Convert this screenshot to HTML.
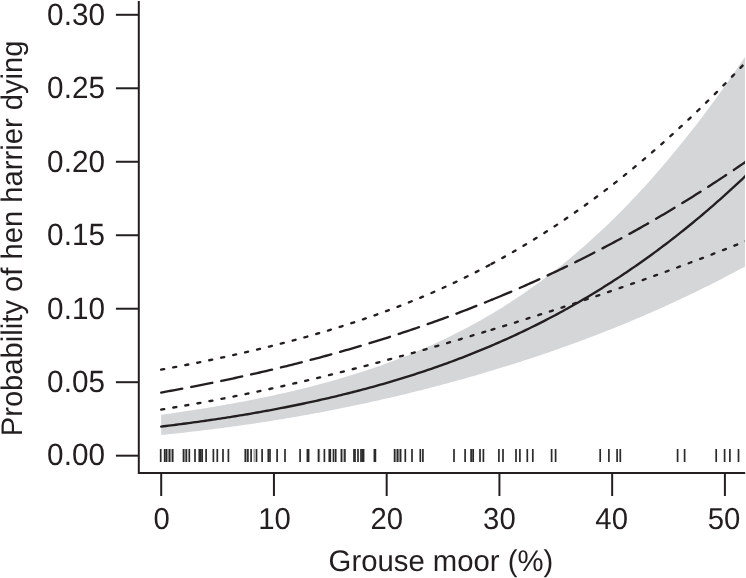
<!DOCTYPE html>
<html><head><meta charset="utf-8"><style>
html,body{margin:0;padding:0;background:#fff;}
svg{display:block;will-change:transform;}
text{font-family:"Liberation Sans",sans-serif;fill:#231f20;text-rendering:geometricPrecision;}
</style></head><body>
<svg width="746" height="578" viewBox="0 0 746 578">
<defs><clipPath id="c"><rect x="139" y="0" width="606" height="472"/></clipPath></defs>
<g clip-path="url(#c)">
<path d="M161.20,414.78 L163.66,414.44 L166.12,414.10 L168.59,413.75 L171.05,413.40 L173.51,413.05 L175.97,412.69 L178.44,412.33 L180.90,411.97 L183.36,411.60 L185.82,411.23 L188.29,410.86 L190.75,410.48 L193.21,410.10 L195.67,409.71 L198.14,409.32 L200.60,408.93 L203.06,408.54 L205.52,408.14 L207.98,407.73 L210.45,407.33 L212.91,406.91 L215.37,406.50 L217.83,406.08 L220.30,405.65 L222.76,405.22 L225.22,404.79 L227.68,404.36 L230.15,403.91 L232.61,403.47 L235.07,403.02 L237.53,402.56 L240.00,402.10 L242.46,401.64 L244.92,401.17 L247.38,400.69 L249.84,400.22 L252.31,399.73 L254.77,399.24 L257.23,398.75 L259.69,398.25 L262.16,397.74 L264.62,397.23 L267.08,396.72 L269.54,396.20 L272.01,395.67 L274.47,395.14 L276.93,394.60 L279.39,394.06 L281.86,393.51 L284.32,392.95 L286.78,392.39 L289.24,391.82 L291.70,391.25 L294.17,390.67 L296.63,390.08 L299.09,389.49 L301.55,388.89 L304.02,388.29 L306.48,387.67 L308.94,387.05 L311.40,386.43 L313.87,385.79 L316.33,385.15 L318.79,384.50 L321.25,383.85 L323.72,383.18 L326.18,382.51 L328.64,381.84 L331.10,381.15 L333.56,380.46 L336.03,379.75 L338.49,379.04 L340.95,378.33 L343.41,377.60 L345.88,376.86 L348.34,376.12 L350.80,375.37 L353.26,374.61 L355.73,373.84 L358.19,373.06 L360.65,372.27 L363.11,371.47 L365.58,370.67 L368.04,369.85 L370.50,369.03 L372.96,368.19 L375.42,367.35 L377.89,366.49 L380.35,365.63 L382.81,364.75 L385.27,363.87 L387.74,362.97 L390.20,362.06 L392.66,361.15 L395.12,360.22 L397.59,359.28 L400.05,358.33 L402.51,357.37 L404.97,356.39 L407.44,355.41 L409.90,354.41 L412.36,353.41 L414.82,352.39 L417.28,351.35 L419.75,350.31 L422.21,349.26 L424.67,348.19 L427.13,347.11 L429.60,346.01 L432.06,344.91 L434.52,343.79 L436.98,342.65 L439.45,341.51 L441.91,340.35 L444.37,339.18 L446.83,337.99 L449.30,336.79 L451.76,335.58 L454.22,334.35 L456.68,333.11 L459.14,331.85 L461.61,330.58 L464.07,329.29 L466.53,327.99 L468.99,326.68 L471.46,325.35 L473.92,324.00 L476.38,322.64 L478.84,321.27 L481.31,319.88 L483.77,318.47 L486.23,317.05 L488.69,315.61 L491.16,314.16 L491.53,313.93 L493.62,312.68 L496.08,311.20 L498.54,309.69 L501.00,308.17 L503.47,306.64 L505.93,305.08 L508.39,303.51 L510.85,301.93 L513.32,300.32 L515.78,298.70 L518.24,297.06 L520.70,295.40 L523.17,293.73 L525.63,292.03 L528.09,290.32 L530.55,288.59 L533.02,286.85 L535.48,285.08 L537.94,283.30 L540.40,281.49 L542.86,279.67 L545.33,277.83 L547.79,275.97 L550.25,274.09 L552.71,272.19 L555.18,270.28 L557.64,268.34 L560.10,266.38 L562.56,264.40 L565.03,262.41 L567.49,260.39 L569.95,258.36 L572.41,256.30 L574.88,254.22 L577.34,252.12 L579.80,250.01 L582.26,247.87 L584.73,245.71 L587.19,243.53 L589.65,241.33 L592.11,239.10 L594.57,236.86 L597.04,234.59 L599.50,232.31 L601.96,230.00 L604.42,227.67 L606.89,225.32 L609.35,222.95 L611.81,220.55 L614.27,218.14 L616.74,215.70 L619.20,213.24 L621.66,210.75 L624.12,208.25 L626.59,205.72 L629.05,203.17 L631.51,200.60 L633.97,198.00 L636.43,195.38 L638.90,192.74 L641.36,190.08 L643.82,187.39 L646.28,184.68 L648.75,181.95 L651.21,179.20 L653.67,176.42 L656.13,173.62 L658.60,170.79 L661.06,167.94 L663.52,165.07 L665.98,162.18 L668.45,159.26 L670.91,156.32 L673.37,153.36 L675.83,150.37 L678.29,147.36 L680.76,144.32 L683.22,141.27 L685.68,138.19 L688.14,135.08 L690.61,131.95 L693.07,128.80 L695.53,125.63 L697.99,122.43 L700.46,119.21 L702.92,115.96 L705.38,112.69 L707.84,109.40 L710.31,106.09 L712.77,102.75 L715.23,99.39 L717.69,96.00 L720.15,92.60 L722.62,89.17 L725.08,85.71 L727.54,82.23 L730.00,78.74 L732.47,75.21 L734.93,71.67 L737.39,68.10 L739.85,64.51 L742.32,60.90 L744.78,57.26 L747.24,53.61 L749.70,49.93 L749.70,263.95 L747.24,265.30 L744.78,266.64 L742.32,267.97 L739.85,269.30 L737.39,270.62 L734.93,271.93 L732.47,273.24 L730.00,274.53 L727.54,275.82 L725.08,277.11 L722.62,278.38 L720.15,279.65 L717.69,280.91 L715.23,282.17 L712.77,283.42 L710.31,284.66 L707.84,285.89 L705.38,287.12 L702.92,288.34 L700.46,289.55 L697.99,290.76 L695.53,291.96 L693.07,293.15 L690.61,294.34 L688.14,295.52 L685.68,296.69 L683.22,297.85 L680.76,299.01 L678.29,300.17 L675.83,301.31 L673.37,302.45 L670.91,303.59 L668.45,304.71 L665.98,305.83 L663.52,306.95 L661.06,308.06 L658.60,309.16 L656.13,310.25 L653.67,311.34 L651.21,312.42 L648.75,313.50 L646.28,314.57 L643.82,315.63 L641.36,316.69 L638.90,317.74 L636.43,318.79 L633.97,319.83 L631.51,320.86 L629.05,321.89 L626.59,322.91 L624.12,323.93 L621.66,324.94 L619.20,325.94 L616.74,326.94 L614.27,327.93 L611.81,328.92 L609.35,329.90 L606.89,330.87 L604.42,331.84 L601.96,332.81 L599.50,333.77 L597.04,334.72 L594.57,335.67 L592.11,336.61 L589.65,337.54 L587.19,338.47 L584.73,339.40 L582.26,340.32 L579.80,341.23 L577.34,342.14 L574.88,343.05 L572.41,343.95 L569.95,344.84 L567.49,345.73 L565.03,346.61 L562.56,347.49 L560.10,348.36 L557.64,349.23 L555.18,350.09 L552.71,350.95 L550.25,351.80 L547.79,352.65 L545.33,353.50 L542.86,354.33 L540.40,355.17 L537.94,355.99 L535.48,356.82 L533.02,357.64 L530.55,358.45 L528.09,359.26 L525.63,360.06 L523.17,360.86 L520.70,361.66 L518.24,362.45 L515.78,363.23 L513.32,364.02 L510.85,364.79 L508.39,365.56 L505.93,366.33 L503.47,367.09 L501.00,367.85 L498.54,368.61 L496.08,369.36 L493.62,370.10 L491.53,370.73 L491.16,370.84 L488.69,371.58 L486.23,372.31 L483.77,373.04 L481.31,373.76 L478.84,374.48 L476.38,375.20 L473.92,375.91 L471.46,376.61 L468.99,377.32 L466.53,378.01 L464.07,378.71 L461.61,379.40 L459.14,380.08 L456.68,380.77 L454.22,381.44 L451.76,382.12 L449.30,382.79 L446.83,383.45 L444.37,384.11 L441.91,384.77 L439.45,385.42 L436.98,386.07 L434.52,386.72 L432.06,387.36 L429.60,387.99 L427.13,388.63 L424.67,389.26 L422.21,389.88 L419.75,390.50 L417.28,391.12 L414.82,391.73 L412.36,392.34 L409.90,392.95 L407.44,393.55 L404.97,394.15 L402.51,394.74 L400.05,395.33 L397.59,395.92 L395.12,396.50 L392.66,397.08 L390.20,397.65 L387.74,398.23 L385.27,398.79 L382.81,399.36 L380.35,399.91 L377.89,400.47 L375.42,401.02 L372.96,401.57 L370.50,402.11 L368.04,402.65 L365.58,403.19 L363.11,403.72 L360.65,404.25 L358.19,404.77 L355.73,405.29 L353.26,405.81 L350.80,406.32 L348.34,406.83 L345.88,407.34 L343.41,407.84 L340.95,408.34 L338.49,408.83 L336.03,409.32 L333.56,409.81 L331.10,410.29 L328.64,410.77 L326.18,411.24 L323.72,411.72 L321.25,412.18 L318.79,412.65 L316.33,413.11 L313.87,413.56 L311.40,414.01 L308.94,414.46 L306.48,414.91 L304.02,415.35 L301.55,415.79 L299.09,416.22 L296.63,416.65 L294.17,417.08 L291.70,417.50 L289.24,417.92 L286.78,418.33 L284.32,418.75 L281.86,419.15 L279.39,419.56 L276.93,419.96 L274.47,420.36 L272.01,420.75 L269.54,421.14 L267.08,421.53 L264.62,421.91 L262.16,422.29 L259.69,422.66 L257.23,423.04 L254.77,423.40 L252.31,423.77 L249.84,424.13 L247.38,424.49 L244.92,424.84 L242.46,425.20 L240.00,425.54 L237.53,425.89 L235.07,426.23 L232.61,426.57 L230.15,426.90 L227.68,427.23 L225.22,427.56 L222.76,427.89 L220.30,428.21 L217.83,428.53 L215.37,428.84 L212.91,429.15 L210.45,429.46 L207.98,429.77 L205.52,430.07 L203.06,430.37 L200.60,430.66 L198.14,430.96 L195.67,431.25 L193.21,431.53 L190.75,431.82 L188.29,432.10 L185.82,432.38 L183.36,432.65 L180.90,432.92 L178.44,433.19 L175.97,433.46 L173.51,433.72 L171.05,433.98 L168.59,434.24 L166.12,434.50 L163.66,434.75 L161.20,435.00 Z" fill="#d5d6d8"/>
<g fill="none" stroke="#231f20" stroke-width="2.35">
<path d="M161.20,426.56 L163.66,426.26 L166.12,425.96 L168.59,425.66 L171.05,425.36 L173.51,425.05 L175.97,424.73 L178.44,424.42 L180.90,424.10 L183.36,423.78 L185.82,423.46 L188.29,423.13 L190.75,422.80 L193.21,422.46 L195.67,422.13 L198.14,421.79 L200.60,421.44 L203.06,421.09 L205.52,420.74 L207.98,420.39 L210.45,420.03 L212.91,419.67 L215.37,419.30 L217.83,418.94 L220.30,418.56 L222.76,418.19 L225.22,417.81 L227.68,417.42 L230.15,417.04 L232.61,416.65 L235.07,416.25 L237.53,415.85 L240.00,415.45 L242.46,415.04 L244.92,414.63 L247.38,414.22 L249.84,413.80 L252.31,413.38 L254.77,412.95 L257.23,412.52 L259.69,412.08 L262.16,411.64 L264.62,411.20 L267.08,410.75 L269.54,410.30 L272.01,409.84 L274.47,409.38 L276.93,408.91 L279.39,408.44 L281.86,407.97 L284.32,407.49 L286.78,407.00 L289.24,406.52 L291.70,406.02 L294.17,405.52 L296.63,405.02 L299.09,404.51 L301.55,404.00 L304.02,403.48 L306.48,402.96 L308.94,402.43 L311.40,401.90 L313.87,401.36 L316.33,400.81 L318.79,400.27 L321.25,399.71 L323.72,399.15 L326.18,398.59 L328.64,398.02 L331.10,397.44 L333.56,396.86 L336.03,396.27 L338.49,395.68 L340.95,395.08 L343.41,394.48 L345.88,393.87 L348.34,393.26 L350.80,392.64 L353.26,392.01 L355.73,391.38 L358.19,390.74 L360.65,390.09 L363.11,389.44 L365.58,388.78 L368.04,388.12 L370.50,387.45 L372.96,386.78 L375.42,386.09 L377.89,385.41 L380.35,384.71 L382.81,384.01 L385.27,383.30 L387.74,382.59 L390.20,381.86 L392.66,381.14 L395.12,380.40 L397.59,379.66 L400.05,378.91 L402.51,378.15 L404.97,377.39 L407.44,376.62 L409.90,375.85 L412.36,375.06 L414.82,374.27 L417.28,373.47 L419.75,372.66 L422.21,371.85 L424.67,371.03 L427.13,370.20 L429.60,369.37 L432.06,368.52 L434.52,367.67 L436.98,366.81 L439.45,365.94 L441.91,365.07 L444.37,364.19 L446.83,363.30 L449.30,362.40 L451.76,361.49 L454.22,360.57 L456.68,359.65 L459.14,358.72 L461.61,357.78 L464.07,356.83 L466.53,355.87 L468.99,354.90 L471.46,353.93 L473.92,352.95 L476.38,351.95 L478.84,350.95 L481.31,349.94 L483.77,348.92 L486.23,347.90 L488.69,346.86 L491.16,345.81 L491.53,345.65 L493.62,344.76 L496.08,343.69 L498.54,342.62 L501.00,341.53 L503.47,340.44 L505.93,339.34 L508.39,338.23 L510.85,337.10 L513.32,335.97 L515.78,334.83 L518.24,333.68 L520.70,332.52 L523.17,331.35 L525.63,330.17 L528.09,328.97 L530.55,327.77 L533.02,326.56 L535.48,325.34 L537.94,324.10 L540.40,322.86 L542.86,321.61 L545.33,320.34 L547.79,319.06 L550.25,317.78 L552.71,316.48 L555.18,315.17 L557.64,313.85 L560.10,312.52 L562.56,311.18 L565.03,309.83 L567.49,308.47 L569.95,307.09 L572.41,305.71 L574.88,304.31 L577.34,302.90 L579.80,301.48 L582.26,300.04 L584.73,298.60 L587.19,297.14 L589.65,295.68 L592.11,294.20 L594.57,292.70 L597.04,291.20 L599.50,289.68 L601.96,288.16 L604.42,286.62 L606.89,285.06 L609.35,283.50 L611.81,281.92 L614.27,280.33 L616.74,278.73 L619.20,277.11 L621.66,275.48 L624.12,273.84 L626.59,272.19 L629.05,270.52 L631.51,268.84 L633.97,267.15 L636.43,265.45 L638.90,263.73 L641.36,262.00 L643.82,260.25 L646.28,258.49 L648.75,256.72 L651.21,254.94 L653.67,253.14 L656.13,251.33 L658.60,249.50 L661.06,247.66 L663.52,245.81 L665.98,243.94 L668.45,242.06 L670.91,240.17 L673.37,238.26 L675.83,236.34 L678.29,234.40 L680.76,232.45 L683.22,230.49 L685.68,228.51 L688.14,226.52 L690.61,224.51 L693.07,222.49 L695.53,220.46 L697.99,218.41 L700.46,216.34 L702.92,214.27 L705.38,212.17 L707.84,210.07 L710.31,207.94 L712.77,205.81 L715.23,203.66 L717.69,201.49 L720.15,199.31 L722.62,197.11 L725.08,194.91 L727.54,192.68 L730.00,190.44 L732.47,188.19 L734.93,185.92 L737.39,183.63 L739.85,181.33 L742.32,179.02 L744.78,176.69 L747.24,174.35 L749.70,171.99" stroke-linecap="round"/>
<g stroke-linecap="round" stroke-dasharray="21.42 9.18">
<path d="M161.20,392.54 L163.66,392.10 L166.12,391.66 L168.59,391.21 L171.05,390.76 L173.51,390.31 L175.97,389.86 L178.44,389.40 L180.90,388.94 L183.36,388.48 L185.82,388.01 L188.29,387.54 L190.75,387.07 L193.21,386.59 L195.67,386.11 L198.14,385.63 L200.60,385.14 L203.06,384.65 L205.52,384.16 L207.98,383.67 L210.45,383.17 L212.91,382.67 L215.37,382.16 L217.83,381.66 L220.30,381.14 L222.76,380.63 L225.22,380.11 L227.68,379.59 L230.15,379.07 L232.61,378.54 L235.07,378.01 L237.53,377.47 L240.00,376.93 L242.46,376.39 L244.92,375.84 L247.38,375.30 L249.84,374.74 L252.31,374.19 L254.77,373.63 L257.23,373.06 L259.69,372.50 L262.16,371.93 L264.62,371.35 L267.08,370.77 L269.54,370.19 L272.01,369.61 L274.47,369.02 L276.93,368.43 L279.39,367.83 L281.86,367.23 L284.32,366.63 L286.78,366.02 L289.24,365.41 L291.70,364.79 L294.17,364.17 L296.63,363.55 L299.09,362.92 L301.55,362.29 L304.02,361.65 L306.48,361.01 L308.94,360.37 L311.40,359.72 L313.87,359.07 L316.33,358.42 L318.79,357.76 L321.25,357.09 L323.72,356.42 L326.18,355.75 L328.64,355.08 L331.10,354.39 L333.56,353.71 L336.03,353.02 L338.49,352.33 L340.95,351.63 L343.41,350.93 L345.88,350.22 L348.34,349.51 L350.80,348.80 L353.26,348.08 L355.73,347.35 L358.19,346.62 L360.65,345.89 L363.11,345.15 L365.58,344.41 L368.04,343.66 L370.50,342.91 L372.96,342.16 L375.42,341.40 L377.89,340.63 L380.35,339.86 L382.81,339.09 L385.27,338.31 L387.74,337.53 L390.20,336.74 L392.66,335.94 L395.12,335.15 L397.59,334.34 L400.05,333.53 L402.51,332.72 L404.97,331.90 L407.44,331.08 L409.90,330.25 L412.36,329.42 L414.82,328.58 L417.28,327.74 L419.75,326.89 L422.21,326.04 L424.67,325.18 L427.13,324.32 L429.60,323.45 L432.06,322.58 L434.52,321.70 L436.98,320.82 L439.45,319.93 L441.91,319.04 L444.37,318.14 L446.83,317.24 L449.30,316.33 L451.76,315.41 L454.22,314.49 L456.68,313.56 L459.14,312.63 L461.61,311.70 L464.07,310.76 L466.53,309.81 L468.99,308.86 L471.46,307.90 L473.92,306.93 L476.38,305.96 L478.84,304.99 L481.31,304.01 L483.77,303.02 L486.23,302.03 L488.69,301.03 L491.16,300.03 L491.53,299.88"/><path d="M491.53,299.88 L493.62,299.02 L496.08,298.01 L498.54,296.99 L501.00,295.96 L503.47,294.93 L505.93,293.89 L508.39,292.85 L510.85,291.80 L513.32,290.74 L515.78,289.68 L518.24,288.61 L520.70,287.54 L523.17,286.46 L525.63,285.37 L528.09,284.28 L530.55,283.19 L533.02,282.08 L535.48,280.97 L537.94,279.86 L540.40,278.74 L542.86,277.61 L545.33,276.47 L547.79,275.33 L550.25,274.19 L552.71,273.04 L555.18,271.88 L557.64,270.71 L560.10,269.54 L562.56,268.36 L565.03,267.18 L567.49,265.99 L569.95,264.79 L572.41,263.59 L574.88,262.38 L577.34,261.16 L579.80,259.94 L582.26,258.71 L584.73,257.47 L587.19,256.23 L589.65,254.98 L592.11,253.73 L594.57,252.47 L597.04,251.20 L599.50,249.92 L601.96,248.64 L604.42,247.35 L606.89,246.06 L609.35,244.76 L611.81,243.45 L614.27,242.13 L616.74,240.81 L619.20,239.48 L621.66,238.15 L624.12,236.80 L626.59,235.45 L629.05,234.10 L631.51,232.74 L633.97,231.37 L636.43,229.99 L638.90,228.61 L641.36,227.22 L643.82,225.82 L646.28,224.42 L648.75,223.00 L651.21,221.59 L653.67,220.16 L656.13,218.73 L658.60,217.29 L661.06,215.85 L663.52,214.39 L665.98,212.93 L668.45,211.47 L670.91,209.99 L673.37,208.51 L675.83,207.02 L678.29,205.53 L680.76,204.02 L683.22,202.51 L685.68,201.00 L688.14,199.47 L690.61,197.94 L693.07,196.40 L695.53,194.86 L697.99,193.30 L700.46,191.74 L702.92,190.18 L705.38,188.60 L707.84,187.02 L710.31,185.43 L712.77,183.84 L715.23,182.23 L717.69,180.62 L720.15,179.00 L722.62,177.38 L725.08,175.75 L727.54,174.11 L730.00,172.46 L732.47,170.81 L734.93,169.14 L737.39,167.47 L739.85,165.80 L742.32,164.11 L744.78,162.42 L747.24,160.72 L749.70,159.02"/></g>
<g stroke-linecap="round" stroke-dasharray="3.06 9.18">
<path d="M161.20,369.68 L163.66,369.22 L166.12,368.77 L168.59,368.31 L171.05,367.84 L173.51,367.38 L175.97,366.91 L178.44,366.44 L180.90,365.96 L183.36,365.49 L185.82,365.00 L188.29,364.52 L190.75,364.03 L193.21,363.54 L195.67,363.05 L198.14,362.55 L200.60,362.05 L203.06,361.55 L205.52,361.04 L207.98,360.53 L210.45,360.01 L212.91,359.50 L215.37,358.97 L217.83,358.45 L220.30,357.92 L222.76,357.39 L225.22,356.85 L227.68,356.31 L230.15,355.77 L232.61,355.22 L235.07,354.67 L237.53,354.12 L240.00,353.56 L242.46,352.99 L244.92,352.43 L247.38,351.86 L249.84,351.28 L252.31,350.70 L254.77,350.12 L257.23,349.53 L259.69,348.94 L262.16,348.34 L264.62,347.74 L267.08,347.13 L269.54,346.52 L272.01,345.90 L274.47,345.28 L276.93,344.66 L279.39,344.03 L281.86,343.40 L284.32,342.76 L286.78,342.11 L289.24,341.46 L291.70,340.81 L294.17,340.15 L296.63,339.48 L299.09,338.81 L301.55,338.14 L304.02,337.46 L306.48,336.77 L308.94,336.08 L311.40,335.38 L313.87,334.68 L316.33,333.97 L318.79,333.25 L321.25,332.53 L323.72,331.81 L326.18,331.07 L328.64,330.33 L331.10,329.59 L333.56,328.84 L336.03,328.08 L338.49,327.31 L340.95,326.54 L343.41,325.77 L345.88,324.98 L348.34,324.19 L350.80,323.39 L353.26,322.59 L355.73,321.78 L358.19,320.96 L360.65,320.13 L363.11,319.30 L365.58,318.46 L368.04,317.61 L370.50,316.76 L372.96,315.89 L375.42,315.02 L377.89,314.15 L380.35,313.26 L382.81,312.37 L385.27,311.47 L387.74,310.56 L390.20,309.64 L392.66,308.71 L395.12,307.78 L397.59,306.84 L400.05,305.89 L402.51,304.93 L404.97,303.96 L407.44,302.98 L409.90,302.00 L412.36,301.00 L414.82,300.00 L417.28,298.99 L419.75,297.97 L422.21,296.94 L424.67,295.90 L427.13,294.85 L429.60,293.79 L432.06,292.73 L434.52,291.65 L436.98,290.57 L439.45,289.47 L441.91,288.36 L444.37,287.25 L446.83,286.12 L449.30,284.99 L451.76,283.84 L454.22,282.69 L456.68,281.52 L459.14,280.35 L461.61,279.16 L464.07,277.97 L466.53,276.76 L468.99,275.54 L471.46,274.32 L473.92,273.08 L476.38,271.83 L478.84,270.57 L481.31,269.30 L483.77,268.02 L486.23,266.73 L488.69,265.43 L491.16,264.11 L491.53,263.91"/><path d="M491.53,263.91 L493.62,262.79 L496.08,261.45 L498.54,260.10 L501.00,258.75 L503.47,257.38 L505.93,256.00 L508.39,254.60 L510.85,253.20 L513.32,251.79 L515.78,250.36 L518.24,248.92 L520.70,247.47 L523.17,246.01 L525.63,244.54 L528.09,243.05 L530.55,241.56 L533.02,240.05 L535.48,238.53 L537.94,237.00 L540.40,235.45 L542.86,233.90 L545.33,232.33 L547.79,230.75 L550.25,229.16 L552.71,227.55 L555.18,225.94 L557.64,224.31 L560.10,222.67 L562.56,221.01 L565.03,219.35 L567.49,217.67 L569.95,215.98 L572.41,214.28 L574.88,212.56 L577.34,210.83 L579.80,209.09 L582.26,207.34 L584.73,205.57 L587.19,203.80 L589.65,202.01 L592.11,200.20 L594.57,198.39 L597.04,196.56 L599.50,194.72 L601.96,192.86 L604.42,191.00 L606.89,189.12 L609.35,187.23 L611.81,185.32 L614.27,183.40 L616.74,181.47 L619.20,179.53 L621.66,177.57 L624.12,175.60 L626.59,173.62 L629.05,171.63 L631.51,169.62 L633.97,167.60 L636.43,165.56 L638.90,163.52 L641.36,161.46 L643.82,159.39 L646.28,157.30 L648.75,155.20 L651.21,153.09 L653.67,150.96 L656.13,148.83 L658.60,146.68 L661.06,144.51 L663.52,142.34 L665.98,140.15 L668.45,137.94 L670.91,135.73 L673.37,133.50 L675.83,131.26 L678.29,129.00 L680.76,126.74 L683.22,124.46 L685.68,122.16 L688.14,119.86 L690.61,117.54 L693.07,115.20 L695.53,112.86 L697.99,110.50 L700.46,108.13 L702.92,105.75 L705.38,103.35 L707.84,100.94 L710.31,98.52 L712.77,96.08 L715.23,93.64 L717.69,91.18 L720.15,88.70 L722.62,86.22 L725.08,83.72 L727.54,81.21 L730.00,78.68 L732.47,76.15 L734.93,73.60 L737.39,71.04 L739.85,68.46 L742.32,65.88 L744.78,63.28 L747.24,60.67 L749.70,58.04"/>
<path d="M161.20,409.56 L163.66,409.16 L166.12,408.76 L168.59,408.35 L171.05,407.94 L173.51,407.53 L175.97,407.11 L178.44,406.69 L180.90,406.27 L183.36,405.85 L185.82,405.42 L188.29,404.99 L190.75,404.55 L193.21,404.12 L195.67,403.68 L198.14,403.23 L200.60,402.79 L203.06,402.34 L205.52,401.88 L207.98,401.43 L210.45,400.97 L212.91,400.51 L215.37,400.04 L217.83,399.57 L220.30,399.10 L222.76,398.63 L225.22,398.15 L227.68,397.67 L230.15,397.18 L232.61,396.70 L235.07,396.21 L237.53,395.71 L240.00,395.22 L242.46,394.72 L244.92,394.21 L247.38,393.71 L249.84,393.20 L252.31,392.68 L254.77,392.17 L257.23,391.65 L259.69,391.13 L262.16,390.60 L264.62,390.07 L267.08,389.54 L269.54,389.00 L272.01,388.47 L274.47,387.93 L276.93,387.38 L279.39,386.83 L281.86,386.28 L284.32,385.73 L286.78,385.17 L289.24,384.61 L291.70,384.05 L294.17,383.48 L296.63,382.91 L299.09,382.34 L301.55,381.77 L304.02,381.19 L306.48,380.61 L308.94,380.02 L311.40,379.44 L313.87,378.85 L316.33,378.25 L318.79,377.66 L321.25,377.06 L323.72,376.46 L326.18,375.85 L328.64,375.24 L331.10,374.63 L333.56,374.02 L336.03,373.40 L338.49,372.78 L340.95,372.16 L343.41,371.54 L345.88,370.91 L348.34,370.28 L350.80,369.65 L353.26,369.01 L355.73,368.38 L358.19,367.74 L360.65,367.09 L363.11,366.45 L365.58,365.80 L368.04,365.15 L370.50,364.50 L372.96,363.84 L375.42,363.18 L377.89,362.52 L380.35,361.86 L382.81,361.20 L385.27,360.53 L387.74,359.86 L390.20,359.19 L392.66,358.51 L395.12,357.84 L397.59,357.16 L400.05,356.48 L402.51,355.79 L404.97,355.11 L407.44,354.42 L409.90,353.73 L412.36,353.04 L414.82,352.35 L417.28,351.65 L419.75,350.95 L422.21,350.25 L424.67,349.55 L427.13,348.85 L429.60,348.14 L432.06,347.43 L434.52,346.72 L436.98,346.01 L439.45,345.30 L441.91,344.58 L444.37,343.87 L446.83,343.15 L449.30,342.43 L451.76,341.70 L454.22,340.98 L456.68,340.25 L459.14,339.52 L461.61,338.79 L464.07,338.06 L466.53,337.33 L468.99,336.59 L471.46,335.85 L473.92,335.12 L476.38,334.37 L478.84,333.63 L481.31,332.89 L483.77,332.14 L486.23,331.39 L488.69,330.64 L491.16,329.89 L491.53,329.78"/><path d="M491.53,329.78 L493.62,329.14 L496.08,328.38 L498.54,327.63 L501.00,326.87 L503.47,326.11 L505.93,325.35 L508.39,324.58 L510.85,323.82 L513.32,323.05 L515.78,322.28 L518.24,321.51 L520.70,320.74 L523.17,319.96 L525.63,319.19 L528.09,318.41 L530.55,317.63 L533.02,316.85 L535.48,316.06 L537.94,315.28 L540.40,314.49 L542.86,313.70 L545.33,312.91 L547.79,312.12 L550.25,311.32 L552.71,310.53 L555.18,309.73 L557.64,308.93 L560.10,308.13 L562.56,307.32 L565.03,306.52 L567.49,305.71 L569.95,304.90 L572.41,304.09 L574.88,303.27 L577.34,302.46 L579.80,301.64 L582.26,300.82 L584.73,300.00 L587.19,299.17 L589.65,298.35 L592.11,297.52 L594.57,296.69 L597.04,295.86 L599.50,295.02 L601.96,294.18 L604.42,293.35 L606.89,292.50 L609.35,291.66 L611.81,290.82 L614.27,289.97 L616.74,289.12 L619.20,288.27 L621.66,287.41 L624.12,286.55 L626.59,285.70 L629.05,284.83 L631.51,283.97 L633.97,283.10 L636.43,282.24 L638.90,281.37 L641.36,280.49 L643.82,279.62 L646.28,278.74 L648.75,277.86 L651.21,276.98 L653.67,276.09 L656.13,275.21 L658.60,274.32 L661.06,273.42 L663.52,272.53 L665.98,271.63 L668.45,270.73 L670.91,269.83 L673.37,268.92 L675.83,268.02 L678.29,267.11 L680.76,266.20 L683.22,265.28 L685.68,264.36 L688.14,263.44 L690.61,262.52 L693.07,261.59 L695.53,260.67 L697.99,259.73 L700.46,258.80 L702.92,257.87 L705.38,256.93 L707.84,255.99 L710.31,255.04 L712.77,254.09 L715.23,253.14 L717.69,252.19 L720.15,251.24 L722.62,250.28 L725.08,249.32 L727.54,248.35 L730.00,247.39 L732.47,246.42 L734.93,245.45 L737.39,244.47 L739.85,243.49 L742.32,242.51 L744.78,241.53 L747.24,240.54 L749.70,239.56"/></g>
</g>
</g>
<g stroke="#2a2a2a" stroke-width="1.7"><line x1="160.7" y1="449" x2="160.7" y2="462"/><line x1="164.7" y1="449" x2="164.7" y2="462"/><line x1="166.3" y1="449" x2="166.3" y2="462"/><line x1="169.5" y1="449" x2="169.5" y2="462"/><line x1="172.7" y1="449" x2="172.7" y2="462"/><line x1="183.5" y1="449" x2="183.5" y2="462"/><line x1="186.4" y1="449" x2="186.4" y2="462"/><line x1="189.3" y1="449" x2="189.3" y2="462"/><line x1="195.0" y1="449" x2="195.0" y2="462"/><line x1="199.3" y1="449" x2="199.3" y2="462"/><line x1="200.7" y1="449" x2="200.7" y2="462"/><line x1="202.2" y1="449" x2="202.2" y2="462"/><line x1="206.1" y1="449" x2="206.1" y2="462"/><line x1="213.4" y1="449" x2="213.4" y2="462"/><line x1="217.3" y1="449" x2="217.3" y2="462"/><line x1="223.0" y1="449" x2="223.0" y2="462"/><line x1="228.4" y1="449" x2="228.4" y2="462"/><line x1="245.3" y1="449" x2="245.3" y2="462"/><line x1="247.9" y1="449" x2="247.9" y2="462"/><line x1="251.1" y1="449" x2="251.1" y2="462"/><line x1="256.5" y1="449" x2="256.5" y2="462"/><line x1="262.1" y1="449" x2="262.1" y2="462"/><line x1="268.3" y1="449" x2="268.3" y2="462"/><line x1="270.0" y1="449" x2="270.0" y2="462"/><line x1="277.1" y1="449" x2="277.1" y2="462"/><line x1="285.0" y1="449" x2="285.0" y2="462"/><line x1="300.1" y1="449" x2="300.1" y2="462"/><line x1="307.4" y1="449" x2="307.4" y2="462"/><line x1="308.6" y1="449" x2="308.6" y2="462"/><line x1="318.5" y1="449" x2="318.5" y2="462"/><line x1="324.4" y1="449" x2="324.4" y2="462"/><line x1="329.3" y1="449" x2="329.3" y2="462"/><line x1="330.3" y1="449" x2="330.3" y2="462"/><line x1="333.5" y1="449" x2="333.5" y2="462"/><line x1="335.7" y1="449" x2="335.7" y2="462"/><line x1="341.4" y1="449" x2="341.4" y2="462"/><line x1="344.9" y1="449" x2="344.9" y2="462"/><line x1="354.0" y1="449" x2="354.0" y2="462"/><line x1="355.0" y1="449" x2="355.0" y2="462"/><line x1="358.0" y1="449" x2="358.0" y2="462"/><line x1="361.0" y1="449" x2="361.0" y2="462"/><line x1="362.3" y1="449" x2="362.3" y2="462"/><line x1="363.6" y1="449" x2="363.6" y2="462"/><line x1="374.4" y1="449" x2="374.4" y2="462"/><line x1="375.4" y1="449" x2="375.4" y2="462"/><line x1="394.6" y1="449" x2="394.6" y2="462"/><line x1="397.6" y1="449" x2="397.6" y2="462"/><line x1="400.6" y1="449" x2="400.6" y2="462"/><line x1="405.3" y1="449" x2="405.3" y2="462"/><line x1="412.0" y1="449" x2="412.0" y2="462"/><line x1="420.3" y1="449" x2="420.3" y2="462"/><line x1="422.9" y1="449" x2="422.9" y2="462"/><line x1="454.0" y1="449" x2="454.0" y2="462"/><line x1="465.1" y1="449" x2="465.1" y2="462"/><line x1="471.1" y1="449" x2="471.1" y2="462"/><line x1="473.2" y1="449" x2="473.2" y2="462"/><line x1="480.0" y1="449" x2="480.0" y2="462"/><line x1="483.4" y1="449" x2="483.4" y2="462"/><line x1="498.9" y1="449" x2="498.9" y2="462"/><line x1="503.0" y1="449" x2="503.0" y2="462"/><line x1="516.0" y1="449" x2="516.0" y2="462"/><line x1="519.9" y1="449" x2="519.9" y2="462"/><line x1="527.3" y1="449" x2="527.3" y2="462"/><line x1="532.8" y1="449" x2="532.8" y2="462"/><line x1="551.6" y1="449" x2="551.6" y2="462"/><line x1="555.6" y1="449" x2="555.6" y2="462"/><line x1="600.2" y1="449" x2="600.2" y2="462"/><line x1="608.9" y1="449" x2="608.9" y2="462"/><line x1="617.1" y1="449" x2="617.1" y2="462"/><line x1="620.3" y1="449" x2="620.3" y2="462"/><line x1="677.6" y1="449" x2="677.6" y2="462"/><line x1="684.6" y1="449" x2="684.6" y2="462"/><line x1="716.2" y1="449" x2="716.2" y2="462"/><line x1="724.6" y1="449" x2="724.6" y2="462"/><line x1="729.9" y1="449" x2="729.9" y2="462"/><line x1="738.5" y1="449" x2="738.5" y2="462"/></g><g stroke="#2a2a2a" stroke-opacity="0.4" stroke-width="1.7"><line x1="167.9" y1="449" x2="167.9" y2="462"/><line x1="171.0" y1="449" x2="171.0" y2="462"/><line x1="185.0" y1="449" x2="185.0" y2="462"/><line x1="246.6" y1="449" x2="246.6" y2="462"/><line x1="254.3" y1="449" x2="254.3" y2="462"/><line x1="319.3" y1="449" x2="319.3" y2="462"/><line x1="343.1" y1="449" x2="343.1" y2="462"/><line x1="396.1" y1="449" x2="396.1" y2="462"/><line x1="399.1" y1="449" x2="399.1" y2="462"/><line x1="472.2" y1="449" x2="472.2" y2="462"/></g>
<g stroke="#231f20" stroke-width="2" fill="none" stroke-linecap="butt">
<path d="M138.8,1 V472.9 H745.2" stroke-linejoin="miter"/>
<line x1="115.9" y1="14.80" x2="138.8" y2="14.80"/><line x1="115.9" y1="88.28" x2="138.8" y2="88.28"/><line x1="115.9" y1="161.76" x2="138.8" y2="161.76"/><line x1="115.9" y1="235.24" x2="138.8" y2="235.24"/><line x1="115.9" y1="308.72" x2="138.8" y2="308.72"/><line x1="115.9" y1="382.20" x2="138.8" y2="382.20"/><line x1="115.9" y1="455.68" x2="138.8" y2="455.68"/><line x1="161.20" y1="472.9" x2="161.20" y2="496"/><line x1="273.94" y1="472.9" x2="273.94" y2="496"/><line x1="386.68" y1="472.9" x2="386.68" y2="496"/><line x1="499.42" y1="472.9" x2="499.42" y2="496"/><line x1="612.16" y1="472.9" x2="612.16" y2="496"/><line x1="724.90" y1="472.9" x2="724.90" y2="496"/>
</g>
<g font-size="29.3"><text transform="translate(104.90,25.00) scale(1,1.035)" text-anchor="end" font-size="29.7">0.30</text><text transform="translate(104.90,98.00) scale(1,1.035)" text-anchor="end" font-size="29.7">0.25</text><text transform="translate(104.90,172.00) scale(1,1.035)" text-anchor="end" font-size="29.7">0.20</text><text transform="translate(104.90,245.00) scale(1,1.035)" text-anchor="end" font-size="29.7">0.15</text><text transform="translate(104.90,319.00) scale(1,1.035)" text-anchor="end" font-size="29.7">0.10</text><text transform="translate(104.90,392.00) scale(1,1.035)" text-anchor="end" font-size="29.7">0.05</text><text transform="translate(104.90,465.00) scale(1,1.035)" text-anchor="end" font-size="29.7">0.00</text><text transform="translate(161.70,529.40) scale(1,1.035)" text-anchor="middle">0</text><text transform="translate(274.44,529.40) scale(1,1.035)" text-anchor="middle">10</text><text transform="translate(386.68,529.40) scale(1,1.035)" text-anchor="middle">20</text><text transform="translate(499.42,529.40) scale(1,1.035)" text-anchor="middle">30</text><text transform="translate(611.66,529.40) scale(1,1.035)" text-anchor="middle">40</text><text transform="translate(724.00,529.40) scale(1,1.035)" text-anchor="middle">50</text><text transform="translate(328.6,571.2) scale(1,1.020)">Grouse moor (%)</text><text transform="translate(21.7,436.3) rotate(-90) scale(1,1.020)" font-size="29.2">Probability of hen harrier dying</text></g>
</svg>
</body></html>
